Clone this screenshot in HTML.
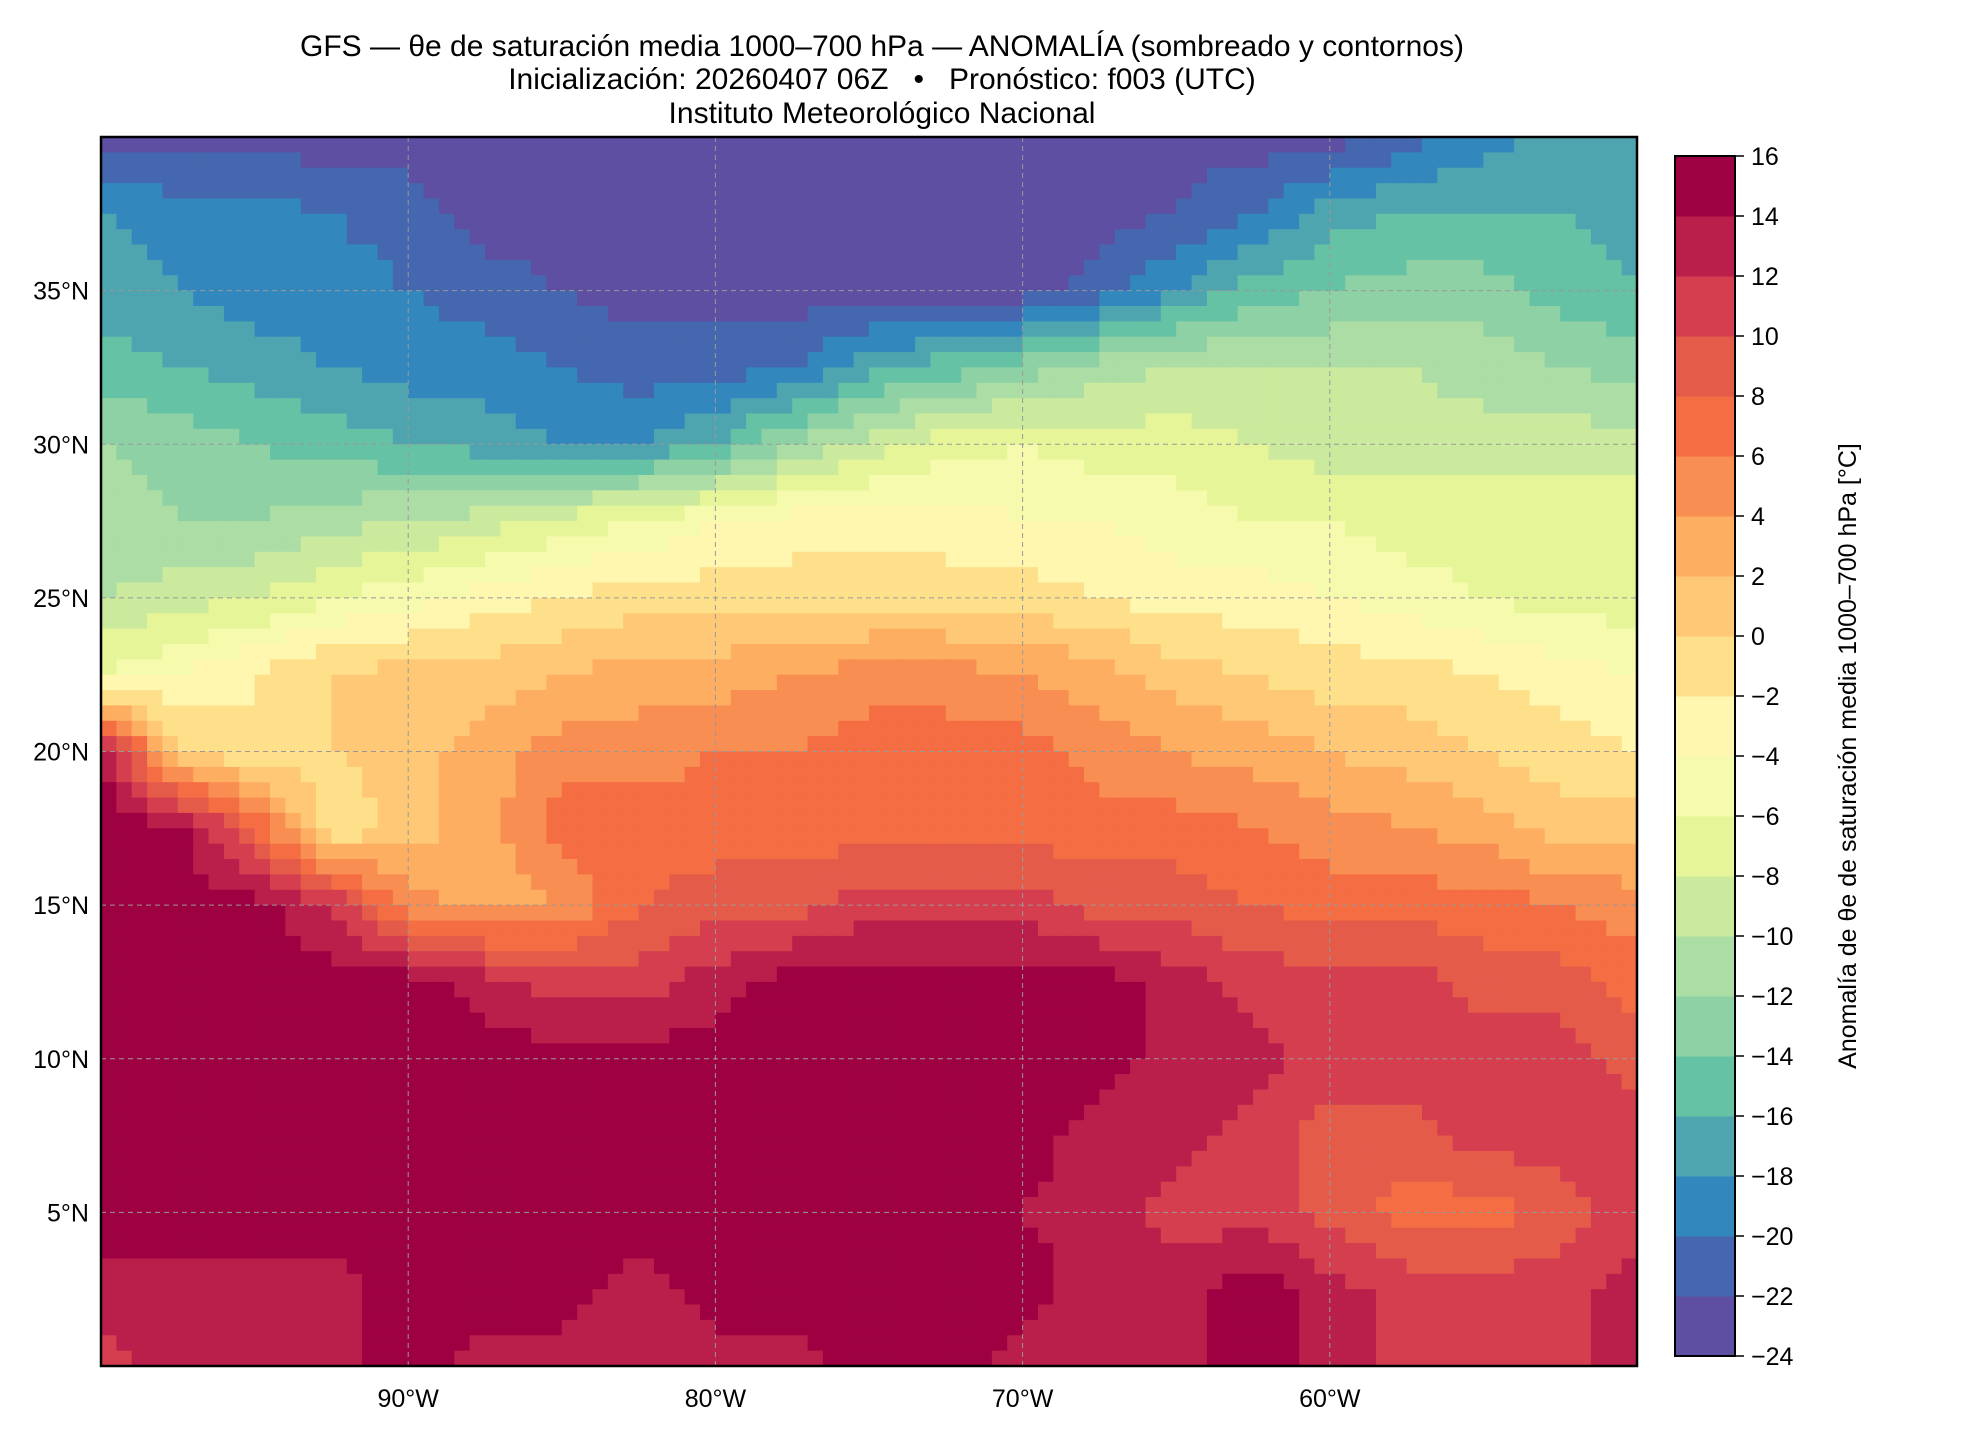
<!DOCTYPE html>
<html><head><meta charset="utf-8">
<style>
body{margin:0;background:#fff;}
svg{display:block;font-family:"Liberation Sans","DejaVu Sans",sans-serif;}
</style></head>
<body>
<svg id="chart" width="1980" height="1440" xmlns="http://www.w3.org/2000/svg">
<text x="882" y="56" font-size="30" text-anchor="middle">GFS — θe de saturación media 1000–700 hPa — ANOMALÍA (sombreado y contornos)</text>
<text x="882" y="89" font-size="30" text-anchor="middle" style="white-space:pre">Inicialización: 20260407 06Z   •   Pronóstico: f003 (UTC)</text>
<text x="882" y="123" font-size="30" text-anchor="middle">Instituto Meteorológico Nacional</text>
<g id="field"></g>
<g id="grid"></g>
<rect x="101" y="137" width="1536" height="1229" fill="none" stroke="#000" stroke-width="2.5"/>
<g id="axes"></g>
<g id="cbar"></g>
<text transform="translate(1856,756) rotate(-90)" font-size="25" text-anchor="middle">Anomalía de θe de saturación media 1000–700 hPa [°C]</text>
</svg>
<script>
const lons = [-100,-97.5,-95,-92.5,-90,-87.5,-85,-82.5,-80,-77.5,-75,-72.5,-70,-67.5,-65,-62.5,-60,-57.5,-55,-52.5,-50];
const lats = [40,37.5,35,32.5,30,27.5,25,22.5,20,17.5,15,12.5,10,7.5,5,2.5,0];
const anomaly = [
[-23,-23,-23,-23,-23,-23,-23,-23,-23,-23,-23,-23,-23,-23,-23,-23,-23,-21,-19,-17,-17],
[-18,-19,-19,-20,-21,-23,-23,-23,-23,-23,-23,-23,-23,-23,-22,-20,-17,-16,-16,-16,-17],
[-17,-18,-19,-19,-20,-21,-22,-23,-23,-23,-23,-23,-23,-21,-18,-15,-14,-13,-13,-15,-16],
[-15,-16,-17,-18,-19,-19,-20,-21,-21,-20,-17,-15,-13,-11,-10,-10,-10,-10,-11,-12,-13],
[-12,-13,-14,-15,-16,-17,-18,-18,-16,-12,-9,-7,-6,-7,-7,-8,-9,-9,-9,-9,-9],
[-11,-12,-12,-11,-10,-9,-7,-6,-4,-3,-3,-3,-4,-4,-5,-6,-6,-7,-7,-7,-7],
[-10,-9,-8,-6,-5,-3,-2,-1,-1,-1,-1,-1,-1,-2,-3,-3,-4,-5,-6,-7,-7],
[-6,-4,-2,0,1,1,2,3,3,4,5,5,4,3,1,0,-1,-1,-2,-3,-4],
[15,0,-2,0,1,3,5,5,6,6,7,7,7,5,4,3,2,1,0,-1,-2],
[15,15,8,-2,1,3,7,7,7,7,7,7,7,7,7,6,5,4,3,1,1],
[15,15,15,12,5,3,4,8,9,9,11,11,11,9,9,8,7,7,7,6,5],
[15,15,15,15,15,13,11,11,13,15,15,15,15,15,13,11,11,11,9,9,7],
[15,15,15,15,15,15,15,15,15,15,15,15,15,15,13,13,11,11,11,11,9],
[15,15,15,15,15,15,15,15,15,15,15,15,15,13,13,11,9,9,11,11,11],
[15,15,15,15,15,15,15,15,15,15,15,15,14,13,11,11,9,7,7,9,11],
[13,13,13,13,15,15,15,13,15,15,15,15,15,13,13,15,13,11,11,11,13],
[11,13,13,13,15,13,13,13,13,13,15,15,13,13,13,15,13,11,11,11,13]
];
const levels = [-24,-22,-20,-18,-16,-14,-12,-10,-8,-6,-4,-2,0,2,4,6,8,10,12,14,16];
const lonTicks = [-90,-80,-70,-60];
const lonTickLabels = ["90°W","80°W","70°W","60°W"];
const latTicks = [5,10,15,20,25,30,35];
const latTickLabels = ["5°N","10°N","15°N","20°N","25°N","30°N","35°N"];
const colors = ["#5e4fa2","#4467af","#3288bd","#4ea5b0","#66c2a5","#8ed1a4","#abdda4","#cbea9d","#e6f598","#f5faad","#fff7b0","#fee08b","#fec877","#fdae61","#f98e52","#f46d43","#e55b4a","#d53e4f","#ba1e4a","#9e0142"];

const NS="http://www.w3.org/2000/svg";
const X0=101,X1=1637,Y0=137,Y1=1366;
const xs = lon => X0 + (lon+100)/50*(X1-X0);
const ys = lat => Y1 - lat/40*(Y1-Y0);
function mk(tag,attrs,parent){const e=document.createElementNS(NS,tag);for(const k in attrs)e.setAttribute(k,attrs[k]);parent.appendChild(e);return e;}
function sample(lon,lat){
  let fi=(lon-lons[0])/(lons[1]-lons[0]); let fj=(lats[0]-lat)/(lats[0]-lats[1]);
  fi=Math.max(0,Math.min(lons.length-1.0001,fi)); fj=Math.max(0,Math.min(lats.length-1.0001,fj));
  const i=Math.floor(fi),j=Math.floor(fj),a=fi-i,b=fj-j;
  return anomaly[j][i]*(1-a)*(1-b)+anomaly[j][i+1]*a*(1-b)+anomaly[j+1][i]*(1-a)*b+anomaly[j+1][i+1]*a*b;
}
function colorFor(v){
  for(let k=0;k<levels.length-1;k++){ if(v<levels[k+1]) return colors[k]; }
  return colors[colors.length-1];
}
const field=document.getElementById('field');
const step=0.5;
for(let lat=40;lat>0;lat-=step){
  for(let lon=-100;lon<-50;lon+=step){
    const v=sample(lon+step/2,lat-step/2);
    const x=xs(lon),y=ys(lat);
    const r=mk('rect',{x:x.toFixed(1),y:y.toFixed(1),width:(xs(lon+step)-x+0.6).toFixed(1),height:(ys(lat-step)-y+0.6).toFixed(1),fill:colorFor(v)},field);
    
    
  }
}
const grid=document.getElementById('grid'),axes=document.getElementById('axes');
lonTicks.forEach((lon,i)=>{
  const x=xs(lon);
  const l=mk('line',{x1:x,x2:x,y1:Y0,y2:Y1,stroke:'#999','stroke-dasharray':'5,4','stroke-width':1},grid);
  
  
  const t=mk('text',{x:x,y:Y1+41,'font-size':25,'text-anchor':'middle'},axes);
  t.textContent=lonTickLabels[i];
  
  
});
latTicks.forEach((lat,i)=>{
  const y=ys(lat);
  const l=mk('line',{x1:X0,x2:X1,y1:y,y2:y,stroke:'#999','stroke-dasharray':'5,4','stroke-width':1},grid);
  
  
  const t=mk('text',{x:X0-12,y:y+9,'font-size':25,'text-anchor':'end'},axes);
  t.textContent=latTickLabels[i];
  
  
});
const cb=document.getElementById('cbar');
const CX=1675,CW=60,CT=156,CB=1356;
const cy=v=>CB-(v-levels[0])/(levels[levels.length-1]-levels[0])*(CB-CT);
for(let k=0;k<colors.length;k++){
  const r=mk('rect',{x:CX,y:cy(levels[k+1]),width:CW,height:cy(levels[k])-cy(levels[k+1])+0.5,fill:colors[k]},cb);
  
  
}
const fr=mk('rect',{x:CX,y:CT,width:CW,height:CB-CT,fill:'none',stroke:'#000','stroke-width':2},cb);


levels.forEach(v=>{
  const y=cy(v);
  const tk=mk('line',{x1:CX+CW,x2:CX+CW+9,y1:y,y2:y,stroke:'#000','stroke-width':1.5},cb);
  
  
  const t=mk('text',{x:CX+CW+16,y:y+9,'font-size':25},cb);
  t.textContent=(v<0?'−'+(-v):String(v));
  
  
});
</script>
</body></html>
